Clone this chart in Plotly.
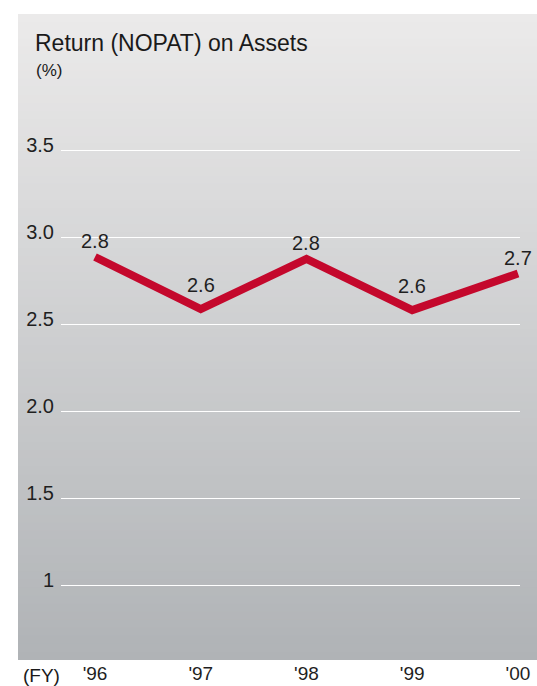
import plotly.graph_objects as go

years = ["'96", "'97", "'98", "'99", "'00"]
values = [2.885, 2.586, 2.874, 2.58, 2.79]
labels = ["2.8", "2.6", "2.8", "2.6", "2.7"]
tick_vals = [1, 1.5, 2.0, 2.5, 3.0, 3.5]
tick_text = ["1", "1.5", "2.0", "2.5", "3.0", "3.5"]

W, H = 537, 686
FONT = "Liberation Sans, Arial, sans-serif"

fig = go.Figure()
fig.add_trace(go.Scatter(
    x=years, y=values, mode="lines",
    line=dict(color="#c4082c", width=8),
    cliponaxis=False, hoverinfo="skip",
))

top_c = (235, 234, 234)
bot_c = (176, 179, 182)
y0p, y1p = 1 - 660 / H, 1 - 14 / H
n = 80
shapes = []
for k in range(n):
    t = k / (n - 1)
    c = tuple(round(bot_c[j] + (top_c[j] - bot_c[j]) * t) for j in range(3))
    ya = y0p + (y1p - y0p) * k / n
    yb = y0p + (y1p - y0p) * (k + 1) / n
    shapes.append(dict(type="rect", xref="paper", yref="paper",
                       x0=18 / W, x1=1.0, y0=ya, y1=min(yb + 0.002, y1p),
                       line=dict(width=0), fillcolor="rgb(%d,%d,%d)" % c,
                       layer="below"))

annotations = [
    dict(text="Return (NOPAT) on Assets", xref="paper", yref="paper",
         x=33 / W, y=1 - 43 / H, xanchor="left", yanchor="middle",
         showarrow=False, font=dict(size=23, color="#1a1a1a")),
    dict(text="(%)", xref="paper", yref="paper",
         x=34 / W, y=1 - 70 / H, xanchor="left", yanchor="middle",
         showarrow=False, font=dict(size=17, color="#1a1a1a")),
    dict(text="(FY)", xref="paper", yref="paper",
         x=21 / W, y=1 - 675 / H, xanchor="left", yanchor="middle",
         showarrow=False, font=dict(size=19, color="#1a1a1a")),
]
for i, (xv, yv, lab) in enumerate(zip(years, values, labels)):
    prev_v = values[i - 1] if i > 0 else None
    next_v = values[i + 1] if i < len(values) - 1 else None
    is_min = (prev_v is not None and prev_v > yv) and (next_v is None or next_v > yv)
    annotations.append(dict(
        text=lab, x=xv, y=yv, xref="x", yref="y", showarrow=False,
        xanchor="center", yanchor="middle", yshift=24 if is_min else 16,
        font=dict(size=20, color="#1f1f1f")))

fig.update_layout(
    width=W, height=H,
    margin=dict(l=0, r=0, t=0, b=0, pad=0, autoexpand=False),
    paper_bgcolor="white", plot_bgcolor="rgba(0,0,0,0)",
    showlegend=False, shapes=shapes, annotations=annotations,
    font=dict(family=FONT, color="#1f1f1f"),
    xaxis=dict(domain=[61 / W, 520 / W], range=[-0.3215, 4.019],
               automargin=False,
               showgrid=False, zeroline=False, showline=False, ticks="",
               tickfont=dict(size=19, color="#1f1f1f"), fixedrange=True),
    yaxis=dict(domain=[y0p, y1p], range=[0.569, 4.2816],
               automargin=False,
               tickvals=tick_vals, ticktext=tick_text,
               showgrid=True, gridcolor="white", gridwidth=1.2,
               zeroline=False, showline=False, ticks="",
               ticklabelstandoff=6, ticklabelshift=-5,
               tickfont=dict(size=20, color="#1f1f1f"), fixedrange=True),
)

fig.write_html("out.html", config={"displayModeBar": False},
               post_script="document.body.style.margin='0';document.body.style.overflow='hidden';")
